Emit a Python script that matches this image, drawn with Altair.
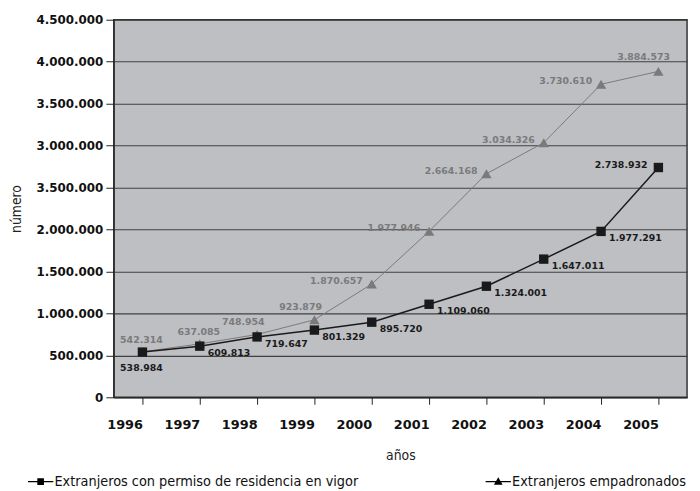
import json
import altair as alt
import pandas as pd

years = ["1996", "1997", "1998", "1999", "2000", "2001", "2002", "2003", "2004", "2005"]
perm_values = [538984, 609813, 719647, 801329, 895720, 1109060, 1324001, 1647011, 1977291, 2738932]
perm_labels = ["538.984", "609.813", "719.647", "801.329", "895.720", "1.109.060",
               "1.324.001", "1.647.011", "1.977.291", "2.738.932"]
empa_values = [542314, 637085, 748954, 923879, 1350000, 1977946, 2664168, 3034326, 3730610, 3884573]
empa_labels = ["542.314", "637.085", "748.954", "923.879", "1.870.657", "1.977.946",
               "2.664.168", "3.034.326", "3.730.610", "3.884.573"]
y_ticks = [0, 500000, 1000000, 1500000, 2000000, 2500000, 3000000, 3500000, 4000000, 4500000]
y_tick_labels = ["0", "500.000", "1.000.000", "1.500.000", "2.000.000", "3.500.000",
                 "3.000.000", "3.500.000", "4.000.000", "4.500.000"]
series_names = ["Extranjeros con permiso de residencia en vigor", "Extranjeros empadronados"]

rows = []
for i, y in enumerate(years):
    rows.append({"year": y, "value": perm_values[i], "label": perm_labels[i], "series": series_names[0]})
for i, y in enumerate(years):
    rows.append({"year": y, "value": empa_values[i], "label": empa_labels[i], "series": series_names[1]})
df = pd.DataFrame(rows)

BLACK = "#1a1a1a"
GREY = "#7a7a7a"
TICKFONT = "DejaVu Sans"
NARROW = "'DejaVu Sans Condensed', 'Liberation Sans Narrow', 'Roboto', sans-serif"

label_expr = json.dumps(y_tick_labels) + "[round(datum.value / 500000)]"

x_enc = alt.X("year:N", sort=years,
              scale=alt.Scale(paddingInner=0, paddingOuter=0),
              axis=alt.Axis(title="años", labelAngle=0, bandPosition=0, ticks=True,
                            tickSize=7, tickColor="#222", domain=True, domainColor="#222",
                            labelFont=TICKFONT, labelFontWeight="bold", labelFontSize=13,
                            labelColor="#111", labelPadding=21,
                            titleFont=NARROW, titleFontSize=14, titleFontWeight="normal",
                            titleColor="#222", titlePadding=17, grid=False))
y_enc = alt.Y("value:Q",
              scale=alt.Scale(domain=[0, 4500000], nice=False, zero=True),
              axis=alt.Axis(title="número", values=y_ticks, labelExpr=label_expr,
                            tickSize=8, tickColor="#222", domain=True, domainColor="#222",
                            labelFont=TICKFONT, labelFontWeight="bold", labelFontSize=12,
                            labelColor="#111", labelPadding=3,
                            titleFont=NARROW, titleFontSize=14, titleFontWeight="normal",
                            titleColor="#222", titlePadding=13,
                            grid=True, gridColor="#404040", gridWidth=1.2))

color_scale = alt.Scale(domain=series_names, range=[BLACK, GREY])

base = alt.Chart(df)

empa = base.transform_filter(alt.datum.series == series_names[1])
perm = base.transform_filter(alt.datum.series == series_names[0])

empa_line = empa.mark_line(strokeWidth=1, color=GREY).encode(x=x_enc, y=y_enc)
empa_pts = empa.mark_point(shape="triangle-up", filled=True, size=110, color=GREY, opacity=1).encode(x=x_enc, y=y_enc)
perm_line = perm.mark_line(strokeWidth=1.5, color=BLACK).encode(x=x_enc, y=y_enc)
perm_pts = perm.mark_point(shape="square", filled=True, size=90, color=BLACK, opacity=1).encode(x=x_enc, y=y_enc)

def lbl(src, yrs, color, **kw):
    return src.transform_filter(alt.FieldOneOfPredicate(field="year", oneOf=yrs)).mark_text(
        font=TICKFONT, fontWeight="bold", fontSize=9.5, color=color, baseline="middle", **kw
    ).encode(x=alt.X("year:N", sort=years), y=alt.Y("value:Q"), text="label:N")

labels = [
    lbl(empa, years[0:2], GREY, align="center", dx=-1, dy=-12),
    lbl(empa, years[2:4], GREY, align="center", dx=-14, dy=-13),
    lbl(empa, years[4:9], GREY, align="right", dx=-9, dy=-3),
    lbl(empa, years[9:10], GREY, align="center", dx=-15, dy=-15),
    lbl(perm, years[0:1], BLACK, align="center", dx=-1, dy=16),
    lbl(perm, years[1:9], BLACK, align="left", dx=8, dy=7),
    lbl(perm, years[9:10], BLACK, align="right", dx=-11, dy=-3),
]

sq_path = "M-1.6,-0.07H1.6V0.07H-1.6Z M-0.42,-0.42H0.42V0.42H-0.42Z"
tri_path = "M-1.6,-0.07H1.6V0.07H-1.6Z M0,-0.55L0.55,0.4H-0.55Z"

legend_layer = base.mark_point(filled=True, opacity=0).encode(
    x=alt.X("year:N", sort=years), y=alt.Y("value:Q"),
    fill=alt.Fill("series:N", scale=color_scale, title=None),
    shape=alt.Shape("series:N", scale=alt.Scale(domain=series_names, range=[sq_path, tri_path]),
                    title=None,
                    legend=alt.Legend(orient="none", legendX=-82, legendY=459, direction="horizontal",
                                      symbolSize=256, symbolStrokeWidth=0, symbolOpacity=1,
                                      labelFont=NARROW, labelFontSize=14.5, labelColor="#111",
                                      labelLimit=500, columnPadding=128, labelOffset=6)),
)

chart = alt.layer(
    legend_layer, empa_line, empa_pts, perm_line, perm_pts, *labels
).resolve_scale(shape="independent").properties(
    width=580, height=382,
    autosize=alt.AutoSizeParams(type="none"),
    padding={"left": 107, "top": 9, "right": 5, "bottom": 100},
    background="white",
).configure_view(fill="#bebfc3", stroke="#333333", strokeWidth=1.5)

chart.save("out.html", embed_options={"renderer": "svg", "actions": False})
